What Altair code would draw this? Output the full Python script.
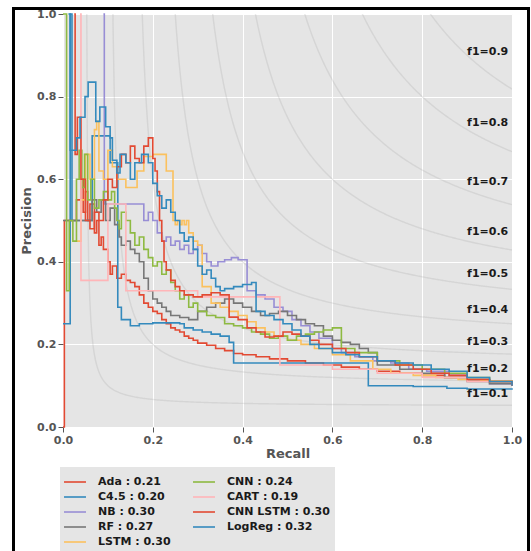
import altair as alt
import numpy as np
import pandas as pd

# ---------------- data ----------------
ADA = [(0.0, 0.0), (0.003, 0.5), (0.03, 0.55), (0.04, 0.6), (0.045, 0.52), (0.05, 0.57),
       (0.055, 0.5), (0.06, 0.54), (0.07, 0.47), (0.075, 0.5), (0.08, 0.44), (0.085, 0.46),
       (0.09, 0.43), (0.1, 0.4), (0.105, 0.37), (0.11, 0.39), (0.12, 0.36), (0.13, 0.37),
       (0.14, 0.355), (0.15, 0.35), (0.16, 0.34), (0.17, 0.32), (0.18, 0.3), (0.19, 0.29),
       (0.2, 0.28), (0.21, 0.275), (0.22, 0.26), (0.23, 0.25), (0.24, 0.24), (0.25, 0.235),
       (0.26, 0.23), (0.27, 0.22), (0.28, 0.215), (0.29, 0.21), (0.3, 0.203), (0.32, 0.198),
       (0.34, 0.19), (0.36, 0.185), (0.38, 0.178), (0.4, 0.175), (0.43, 0.17), (0.46, 0.165),
       (0.5, 0.16), (0.54, 0.155), (0.58, 0.15), (0.62, 0.145), (0.66, 0.14), (0.7, 0.135),
       (0.75, 0.13), (0.8, 0.125), (0.85, 0.12), (0.9, 0.115), (0.95, 0.11), (1.0, 0.1)]

C45 = [(0.0, 0.25), (0.016, 1.0), (0.02, 0.5), (0.065, 0.705), (0.105, 0.64), (0.122, 0.29),
       (0.13, 0.26), (0.15, 0.245), (0.17, 0.25), (0.2, 0.252), (0.26, 0.25), (0.27, 0.24),
       (0.29, 0.235), (0.31, 0.23), (0.33, 0.225), (0.35, 0.22), (0.37, 0.205), (0.38, 0.155),
       (0.68, 0.1), (0.72, 0.1), (0.78, 0.098), (0.855, 0.094), (0.9, 0.092), (1.0, 0.09)]

NB = [(0.09, 1.0), (0.092, 0.54), (0.18, 0.5), (0.19, 0.52), (0.2, 0.5), (0.21, 0.47),
      (0.22, 0.45), (0.23, 0.46), (0.24, 0.44), (0.25, 0.45), (0.26, 0.43), (0.27, 0.44),
      (0.28, 0.42), (0.29, 0.43), (0.3, 0.44), (0.31, 0.42), (0.32, 0.4), (0.33, 0.39),
      (0.345, 0.4), (0.36, 0.405), (0.375, 0.41), (0.39, 0.405), (0.41, 0.33), (0.43, 0.32),
      (0.45, 0.31), (0.47, 0.29), (0.49, 0.28), (0.51, 0.26), (0.53, 0.245), (0.55, 0.23),
      (0.57, 0.215), (0.6, 0.19), (0.62, 0.18), (0.65, 0.17), (0.69, 0.16), (0.73, 0.155),
      (0.77, 0.14), (0.81, 0.135), (0.86, 0.125), (0.9, 0.115), (0.95, 0.105), (1.0, 0.1)]

RF = [(0.0, 0.5), (0.065, 0.55), (0.075, 0.52), (0.085, 0.55), (0.095, 0.5), (0.105, 0.53),
      (0.115, 0.49), (0.125, 0.46), (0.13, 0.44), (0.14, 0.45), (0.15, 0.43), (0.16, 0.42),
      (0.17, 0.4), (0.18, 0.36), (0.19, 0.33), (0.2, 0.31), (0.21, 0.3), (0.22, 0.29),
      (0.23, 0.28), (0.24, 0.27), (0.26, 0.265), (0.28, 0.26), (0.3, 0.28), (0.32, 0.29),
      (0.34, 0.3), (0.36, 0.31), (0.38, 0.3), (0.4, 0.29), (0.42, 0.28), (0.44, 0.27),
      (0.46, 0.275), (0.48, 0.28), (0.5, 0.27), (0.52, 0.26), (0.54, 0.25), (0.56, 0.245),
      (0.58, 0.22), (0.6, 0.21), (0.62, 0.205), (0.64, 0.2), (0.66, 0.19), (0.68, 0.18),
      (0.7, 0.15), (0.75, 0.14), (0.8, 0.13), (0.85, 0.12), (0.9, 0.11), (0.95, 0.105), (1.0, 0.1)]

LSTM = [(0.03, 0.45), (0.04, 0.55), (0.05, 0.66), (0.06, 0.6), (0.07, 0.72), (0.075, 0.74),
        (0.08, 0.62), (0.09, 0.6), (0.1, 0.67), (0.11, 0.63), (0.12, 0.6), (0.14, 0.58),
        (0.165, 0.62), (0.18, 0.655), (0.2, 0.66), (0.23, 0.62), (0.245, 0.5), (0.25, 0.49),
        (0.255, 0.5), (0.26, 0.49), (0.265, 0.5), (0.27, 0.49), (0.275, 0.5), (0.28, 0.47),
        (0.29, 0.45), (0.3, 0.44), (0.31, 0.34), (0.33, 0.3), (0.35, 0.29), (0.37, 0.28),
        (0.39, 0.27), (0.41, 0.255), (0.43, 0.24), (0.45, 0.23), (0.47, 0.22), (0.5, 0.21),
        (0.53, 0.2), (0.56, 0.19), (0.6, 0.175), (0.64, 0.16), (0.69, 0.14), (0.73, 0.13),
        (0.78, 0.125), (0.83, 0.12), (0.88, 0.115), (0.93, 0.112), (1.0, 0.11)]

CNN = [(0.0, 1.0), (0.008, 0.33), (0.014, 0.5), (0.022, 0.45), (0.03, 0.6), (0.036, 0.67),
       (0.042, 0.58), (0.048, 0.66), (0.055, 0.55), (0.062, 0.6), (0.07, 0.53), (0.08, 0.55),
       (0.09, 0.57), (0.1, 0.55), (0.108, 0.57), (0.115, 0.53), (0.12, 0.5), (0.125, 0.48),
       (0.13, 0.52), (0.14, 0.5), (0.15, 0.47), (0.16, 0.44), (0.17, 0.46), (0.18, 0.43),
       (0.19, 0.41), (0.2, 0.39), (0.21, 0.4), (0.22, 0.37), (0.23, 0.38), (0.24, 0.35),
       (0.25, 0.33), (0.26, 0.31), (0.27, 0.32), (0.28, 0.29), (0.29, 0.3), (0.3, 0.28),
       (0.32, 0.27), (0.34, 0.265), (0.36, 0.25), (0.38, 0.245), (0.4, 0.24), (0.42, 0.23),
       (0.44, 0.225), (0.46, 0.215), (0.48, 0.22), (0.5, 0.21), (0.52, 0.22), (0.54, 0.225),
       (0.56, 0.23), (0.58, 0.235), (0.6, 0.24), (0.62, 0.19), (0.65, 0.18), (0.7, 0.16),
       (0.75, 0.15), (0.8, 0.14), (0.85, 0.13), (0.9, 0.12), (0.95, 0.11), (1.0, 0.1)]

CART = [(0.038, 1.0), (0.04, 0.355), (0.1, 0.54), (0.14, 0.33), (0.3, 0.315), (0.483, 0.15),
        (0.6, 0.14), (0.7, 0.13), (0.8, 0.12), (0.9, 0.11), (1.0, 0.1)]

CNN_LSTM = [(0.025, 1.0), (0.027, 0.66), (0.032, 0.75), (0.04, 0.6), (0.05, 0.5), (0.06, 0.48),
            (0.07, 0.52), (0.08, 0.5), (0.09, 0.55), (0.1, 0.6), (0.11, 0.58), (0.12, 0.63),
            (0.13, 0.66), (0.14, 0.64), (0.15, 0.68), (0.16, 0.65), (0.17, 0.64), (0.18, 0.68),
            (0.19, 0.7), (0.2, 0.65), (0.205, 0.62), (0.21, 0.57), (0.215, 0.5), (0.22, 0.45),
            (0.225, 0.4), (0.23, 0.38), (0.24, 0.355), (0.25, 0.34), (0.26, 0.33), (0.27, 0.32),
            (0.29, 0.315), (0.31, 0.32), (0.33, 0.325), (0.35, 0.32), (0.37, 0.266), (0.39, 0.26),
            (0.41, 0.24), (0.43, 0.23), (0.45, 0.218), (0.47, 0.22), (0.49, 0.23), (0.51, 0.225),
            (0.53, 0.22), (0.55, 0.21), (0.57, 0.2), (0.6, 0.19), (0.63, 0.18), (0.66, 0.17),
            (0.7, 0.16), (0.74, 0.15), (0.78, 0.14), (0.82, 0.13), (0.86, 0.125), (0.9, 0.115),
            (0.95, 0.11), (1.0, 0.1)]

LOGREG = [(0.012, 1.0), (0.016, 0.67), (0.03, 0.7), (0.038, 0.75), (0.049, 0.8), (0.056, 0.835),
          (0.073, 0.74), (0.082, 0.775), (0.095, 0.727), (0.105, 0.7), (0.11, 0.646), (0.12, 0.615),
          (0.127, 0.66), (0.14, 0.64), (0.15, 0.6), (0.16, 0.64), (0.175, 0.66), (0.19, 0.64),
          (0.2, 0.59), (0.21, 0.56), (0.22, 0.53), (0.23, 0.55), (0.24, 0.52), (0.25, 0.5),
          (0.26, 0.47), (0.27, 0.45), (0.28, 0.46), (0.29, 0.43), (0.3, 0.39), (0.31, 0.37),
          (0.32, 0.38), (0.33, 0.36), (0.34, 0.34), (0.35, 0.33), (0.36, 0.335), (0.38, 0.34),
          (0.4, 0.345), (0.42, 0.35), (0.43, 0.28), (0.45, 0.27), (0.47, 0.26), (0.49, 0.25),
          (0.51, 0.235), (0.53, 0.22), (0.55, 0.2), (0.57, 0.19), (0.6, 0.18), (0.63, 0.175),
          (0.66, 0.17), (0.7, 0.16), (0.74, 0.155), (0.78, 0.15), (0.82, 0.14), (0.86, 0.135),
          (0.9, 0.12), (0.95, 0.11), (1.0, 0.1)]

# legend labels in plotting order, with their colours
SERIES = [
    ("Ada : 0.21", "#E24A33", ADA),
    ("C4.5 : 0.20", "#348ABD", C45),
    ("NB : 0.30", "#988ED5", NB),
    ("RF : 0.27", "#777777", RF),
    ("LSTM : 0.30", "#FBC15E", LSTM),
    ("CNN : 0.24", "#8EBA42", CNN),
    ("CART : 0.19", "#FFB5B8", CART),
    ("CNN LSTM : 0.30", "#E24A33", CNN_LSTM),
    ("LogReg : 0.32", "#348ABD", LOGREG),
]
LEGEND_ORDER = [n for n, _, _ in SERIES]

F_VALUES = [0.1, 0.2, 0.3, 0.4, 0.5, 0.6, 0.7, 0.8, 0.9]
F_LABELS = ["f1=0.1", "f1=0.2", "f1=0.3", "f1=0.4", "f1=0.5", "f1=0.6", "f1=0.7", "f1=0.8", "f1=0.9"]
TICKS = [0.0, 0.2, 0.4, 0.6, 0.8, 1.0]

# ---------------- tables ----------------
rows = []
for order, (name, col, pts) in enumerate(SERIES):
    for r, p in pts:
        rows.append({"model": name, "k": order, "recall": r, "precision": p})
df = pd.DataFrame(rows)

color_scale = alt.Scale(domain=LEGEND_ORDER, range=[c for _, c, _ in SERIES])

grid = np.linspace(0.01, 1.0, 400)
iso = pd.DataFrame([{"f": f, "x": x} for f in F_VALUES for x in grid])
iso_lab = pd.DataFrame({"f": F_VALUES, "label": F_LABELS})

xs = alt.Scale(domain=[0, 1], nice=False)
ys = alt.Scale(domain=[0, 1], nice=False)
FONT = "DejaVu Sans"

iso_lines = alt.Chart(iso).transform_calculate(
    y="datum.f*datum.x/(2*datum.x-datum.f)"
).transform_filter("datum.y >= 0 && datum.y <= 3").mark_line(
    clip=True, color="#808080", opacity=0.16, strokeWidth=1.4
).encode(
    x=alt.X("x:Q", scale=xs),
    y=alt.Y("y:Q", scale=ys),
    detail="f:N",
)

iso_text = alt.Chart(iso_lab).transform_calculate(
    lx="0.9",
    ly="datum.f*0.91918/(2*0.91918-datum.f)+0.02",
).mark_text(
    align="left", baseline="alphabetic", font=FONT, fontWeight="bold",
    fontSize=11, color="#1a1a1a"
).encode(
    x=alt.X("lx:Q", scale=xs),
    y=alt.Y("ly:Q", scale=ys),
    text="label:N",
)

lines = alt.Chart(df).mark_line(interpolate="step-after", strokeWidth=1.6).encode(
    x=alt.X("recall:Q", scale=xs, title="Recall",
            axis=alt.Axis(values=TICKS, format=".1f", labelFlush=False, titlePadding=2)),
    y=alt.Y("precision:Q", scale=ys, title="Precision",
            axis=alt.Axis(values=TICKS, format=".1f", labelFlush=False, titlePadding=3)),
    color=alt.Color("model:N", scale=color_scale, sort=LEGEND_ORDER,
                    legend=alt.Legend(
                        orient="none", legendX=-3, legendY=453, columns=2,
                        title=None, symbolType="M-1.22,0H1.22", symbolSize=324,
                        symbolStrokeWidth=1.6, symbolFillColor="transparent",
                        labelFont=FONT, labelFontSize=11,
                        labelFontWeight="bold", labelColor="#1a1a1a", labelLimit=0,
                        fillColor="#E5E5E5", padding=5, columnPadding=18,
                        rowPadding=0, labelOffset=13)),
    order=alt.Order("recall:Q"),
    detail="k:N",
)

frame = alt.Chart(pd.DataFrame({"a": [0]})).mark_rect(
    fill="transparent", stroke="black", strokeWidth=3
).encode(
    x=alt.value(-49.5), x2=alt.value(465.5), y=alt.value(-5.5), y2=alt.value(560)
)

chart = alt.layer(iso_lines, lines, iso_text, frame).properties(
    width=449, height=413,
    padding={"left": 63, "top": 14, "right": 19, "bottom": 124},
    autosize=alt.AutoSizeParams(type="none"),
    background="white",
).configure_view(
    fill="#E5E5E5", stroke="transparent"
).configure_axis(
    grid=True, gridColor="white", gridWidth=1, domain=False,
    tickColor="#555555", tickSize=5, tickWidth=1,
    labelFont=FONT, labelFontSize=11, labelFontWeight="bold", labelColor="#555555",
    labelPadding=2,
    titleFont=FONT, titleFontSize=13, titleFontWeight="bold", titleColor="#555555",
)

chart.save("out.html", embed_options={"renderer": "svg", "actions": False})
